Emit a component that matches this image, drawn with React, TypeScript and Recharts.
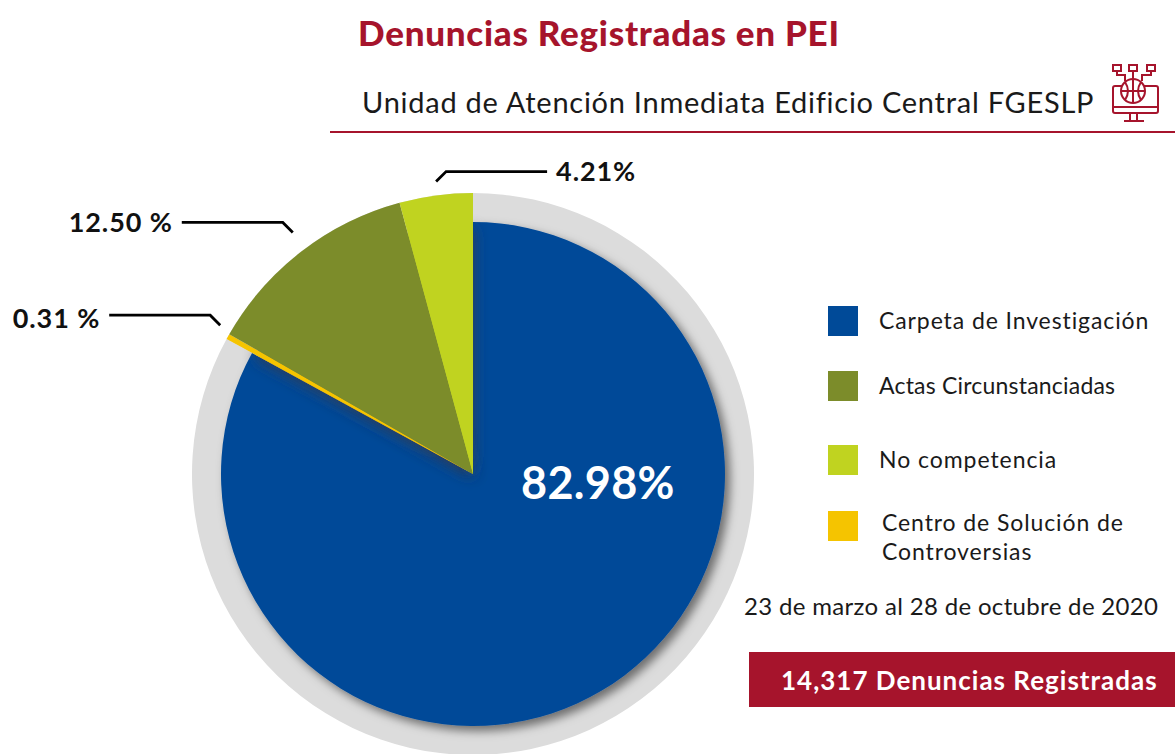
import { Cell, Pie, PieChart } from 'recharts';

const categories = ['Carpeta de Investigación', 'Centro de Solución de Controversias', 'Actas Circunstanciadas', 'No competencia'];
const shares = [82.98, 0.31, 12.5, 4.21];
const shareLabels = ['82.98%', '0.31 %', '12.50 %', '4.21%'];
const colors = ['#004a98', '#f5c400', '#7c8c2a', '#c0d320'];

const data = categories.map((name, i) => ({ name, value: shares[i] }));

const RED = '#a6142c';
const RING = '#dcdcdc';
const FONT = 'Lato, sans-serif';
const CX = 473;
const CY = 474;
const RADIAN = Math.PI / 180;

// small hand nudges so the leader tips land where the reference has them
const leaderNudge = [[0, 0], [4.5, -4.5], [0, -8], [2, 0]];
const labelNudge = [0, 2, -1, -1];

// leader line: short diagonal from the slice, then a horizontal run to the label
function renderLeader({ midAngle, outerRadius, index }: any) {
  if (index === 0) return null;
  const toRight = index === 3;
  const tipX = CX + (outerRadius + 14) * Math.cos(midAngle * RADIAN) + leaderNudge[index][0];
  const tipY = CY - (outerRadius + 14) * Math.sin(midAngle * RADIAN) + leaderNudge[index][1];
  const dir = toRight ? 1 : -1;
  const elbowX = tipX + dir * 10;
  const elbowY = tipY - 10;
  const endX = elbowX + dir * 101;
  return (
    <g key={index}>
      <path d={`M${tipX},${tipY}L${elbowX},${elbowY}L${endX},${elbowY}`} fill="none" stroke="#000" strokeWidth={2.8} />
      <text
        x={endX + dir * 9}
        y={elbowY + labelNudge[index]}
        textAnchor={toRight ? 'start' : 'end'}
        dominantBaseline="central"
        fontFamily={FONT}
        fontWeight={700}
        fontSize={27}
        letterSpacing={0.9}
        fill="#111"
      >
        {shareLabels[index]}
      </text>
    </g>
  );
}

const legendRows = [
  { color: colors[0], top: 306, lines: [categories[0]], textLeft: 879, textTop: 320, spacing: 0.9 },
  { color: colors[2], top: 371, lines: [categories[2]], textLeft: 879, textTop: 385, spacing: 0.2 },
  { color: colors[3], top: 445, lines: [categories[3]], textLeft: 879, textTop: 459, spacing: 0.95 },
  { color: colors[1], top: 511, lines: ['Centro de Solución de', 'Controversias'], textLeft: 882, textTop: 522, spacing: 0.9 },
];

function Icon() {
  return (
    <svg style={{ position: 'absolute', left: 1105, top: 58 }} width={60} height={70} viewBox="1105 58 60 70" fill="none" stroke={RED} strokeWidth={2}>
      <rect x={1113} y={65} width={8} height={6} />
      <rect x={1129} y={65} width={8} height={6} />
      <rect x={1147} y={65} width={8} height={6} />
      <path d="M1133 71V79M1117 71V75H1125V81M1151 71V75H1142V81" />
      <path d="M1122 86H1115Q1113 86 1113 88V111Q1113 113 1115 113H1156Q1158 113 1158 111V88Q1158 86 1156 86H1144" />
      <path d="M1113 107H1158M1130 113V120M1137 113V120M1124 121H1144" />
      <circle cx={1133} cy={91} r={12} />
      <path d="M1121 91H1145M1133 79V103M1125 82Q1131 91 1125 100M1141 82Q1135 91 1141 100" />
    </svg>
  );
}

export default function App() {
  return (
    <div style={{ position: 'absolute', left: 0, top: 0, width: 1175, height: 754, overflow: 'hidden', background: '#fff', fontFamily: FONT, color: '#1a1a1a' }}>
      <PieChart width={1175} height={754} margin={{ top: 0, right: 0, bottom: 0, left: 0 }}>
        <defs>
          <filter id="blueShadow" x="-20%" y="-20%" width="140%" height="140%">
            <feDropShadow dx={5} dy={5} stdDeviation={5} floodColor="#000" floodOpacity={0.5} />
          </filter>
          <filter id="wedgeShadow" x="-40%" y="-40%" width="180%" height="180%">
            <feDropShadow dx={0} dy={3} stdDeviation={7} floodColor="#3a3a4a" floodOpacity={0.9} />
          </filter>
        </defs>
        {/* ring */}
        <Pie data={data} dataKey="value" cx={CX} cy={CY} outerRadius={281} startAngle={90} endAngle={-270} stroke="none" isAnimationActive={false}>
          {data.map((d) => <Cell key={d.name} fill={RING} />)}
        </Pie>
        {/* main slice, shadow falls on the ring */}
        <Pie data={data} dataKey="value" cx={CX} cy={CY} outerRadius={252} startAngle={90} endAngle={-270} stroke="none" isAnimationActive={false}>
          {data.map((d, i) => <Cell key={d.name} fill={i === 0 ? colors[0] : 'none'} filter={i === 0 ? 'url(#blueShadow)' : undefined} />)}
        </Pie>
        {/* smaller slices: an inner copy throws the shadow onto the main slice */}
        <Pie data={data} dataKey="value" cx={CX} cy={CY} outerRadius={248} startAngle={90} endAngle={-270} stroke="none" isAnimationActive={false}>
          {data.map((d, i) => <Cell key={d.name} fill={i === 0 ? 'none' : colors[i]} filter={i === 0 ? undefined : 'url(#wedgeShadow)'} />)}
        </Pie>
        <Pie data={data} dataKey="value" cx={CX} cy={CY} outerRadius={281} startAngle={90} endAngle={-270} stroke="none" isAnimationActive={false} label={renderLeader} labelLine={false}>
          {data.map((d, i) => <Cell key={d.name} fill={i === 0 ? 'none' : colors[i]} />)}
        </Pie>
      </PieChart>

      <div style={{ position: 'absolute', left: 521, top: 482, transform: 'translateY(-50%)', color: '#fff', fontWeight: 700, fontSize: 45, lineHeight: 1, letterSpacing: 0.3 }}>{shareLabels[0]}</div>

      <div style={{ position: 'absolute', left: 358, top: 32, transform: 'translateY(-50%)', color: RED, fontWeight: 900, fontSize: 35, lineHeight: 1, letterSpacing: 0.73, whiteSpace: 'nowrap' }}>Denuncias Registradas en PEI</div>
      <div style={{ position: 'absolute', left: 362, top: 101, transform: 'translateY(-50%)', fontSize: 29, lineHeight: 1, letterSpacing: 0.74, whiteSpace: 'nowrap' }}>Unidad de Atención Inmediata Edificio Central FGESLP</div>
      <div style={{ position: 'absolute', left: 330, top: 131, width: 845, height: 2, background: RED }} />
      <Icon />

      {legendRows.map((row) => (
        <div key={row.color}>
          <div style={{ position: 'absolute', left: 828, top: row.top, width: 30, height: 30, background: row.color }} />
          {row.lines.map((line, j) => (
            <div key={line} style={{ position: 'absolute', left: row.textLeft, top: row.textTop + j * 29, transform: 'translateY(-50%)', fontSize: 23, lineHeight: 1, letterSpacing: row.spacing, whiteSpace: 'nowrap' }}>{line}</div>
          ))}
        </div>
      ))}

      <div style={{ position: 'absolute', left: 744, top: 606, transform: 'translateY(-50%)', fontSize: 24, lineHeight: 1, letterSpacing: 0.33, whiteSpace: 'nowrap' }}>23 de marzo al 28 de octubre de 2020</div>
      <div style={{ position: 'absolute', left: 749, top: 652, width: 426, height: 55, background: RED }} />
      <div style={{ position: 'absolute', left: 781, top: 680, transform: 'translateY(-50%)', color: '#fff', fontWeight: 700, fontSize: 26, lineHeight: 1, letterSpacing: 1.0, whiteSpace: 'nowrap' }}>14,317 Denuncias Registradas</div>
    </div>
  );
}
